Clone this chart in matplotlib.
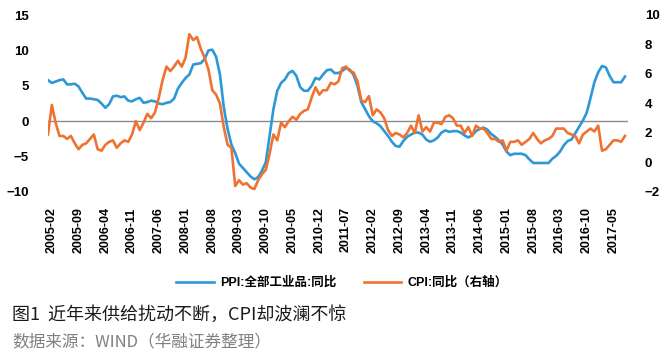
import matplotlib
matplotlib.use("Agg")
import matplotlib.pyplot as plt
import numpy as np
import pandas as pd

plt.rcParams['font.family'] = ['Liberation Sans', 'Noto Sans CJK SC', 'DejaVu Sans']

# monthly data, 2005-01 .. 2017-08
ppi = [5.8, 5.4, 5.6, 5.8, 5.9, 5.2, 5.2, 5.3, 4.9, 4.0, 3.2, 3.2,
       3.1, 3.0, 2.5, 1.9, 2.4, 3.5, 3.6, 3.4, 3.5, 2.9, 2.8, 3.1,
       3.3, 2.6, 2.7, 2.9, 2.8, 2.5, 2.4, 2.6, 2.7, 3.2, 4.6, 5.4,
       6.1, 6.6, 8.0, 8.1, 8.2, 8.8, 10.0, 10.1, 9.1, 6.6, 2.0, -1.1,
       -3.3, -4.5, -6.0, -6.6, -7.2, -7.8, -8.2, -7.9, -7.0, -5.8, -2.1, 1.7,
       4.3, 5.4, 5.9, 6.8, 7.1, 6.4, 4.8, 4.3, 4.3, 5.0, 6.1, 5.9,
       6.6, 7.2, 7.3, 6.8, 6.8, 7.1, 7.5, 7.3, 6.5, 5.0, 2.7, 1.7,
       0.7, 0.0, -0.3, -0.7, -1.4, -2.1, -2.9, -3.5, -3.6, -2.8, -2.2, -1.9,
       -1.6, -1.6, -1.9, -2.6, -2.9, -2.7, -2.3, -1.6, -1.3, -1.5, -1.4, -1.4,
       -1.6, -2.0, -2.3, -2.0, -1.4, -1.1, -0.9, -1.2, -1.8, -2.2, -2.7, -3.3,
       -4.3, -4.8, -4.6, -4.6, -4.6, -4.8, -5.4, -5.9, -5.9, -5.9, -5.9, -5.9,
       -5.3, -4.9, -4.3, -3.4, -2.8, -2.6, -1.7, -0.8, 0.1, 1.2, 3.3, 5.5,
       6.9, 7.8, 7.6, 6.4, 5.5, 5.5, 5.5, 6.3]

cpi = [1.9, 3.9, 2.7, 1.8, 1.8, 1.6, 1.8, 1.3, 0.9, 1.2, 1.3, 1.6,
       1.9, 0.9, 0.8, 1.2, 1.4, 1.5, 1.0, 1.3, 1.5, 1.4, 1.9, 2.8,
       2.2, 2.7, 3.3, 3.0, 3.4, 4.4, 5.6, 6.5, 6.2, 6.5, 6.9, 6.5,
       7.1, 8.7, 8.3, 8.5, 7.7, 7.1, 6.3, 4.9, 4.6, 4.0, 2.4, 1.2,
       1.0, -1.6, -1.2, -1.5, -1.4, -1.7, -1.8, -1.2, -0.8, -0.5, 0.6, 1.9,
       1.5, 2.7, 2.4, 2.8, 3.1, 2.9, 3.3, 3.5, 3.6, 4.4, 5.1, 4.6,
       4.9, 4.9, 5.4, 5.3, 5.5, 6.4, 6.5, 6.2, 6.1, 5.5, 4.2, 4.1,
       4.5, 3.2, 3.6, 3.4, 3.0, 2.2, 1.8, 2.0, 1.9, 1.7, 2.0, 2.5,
       2.0, 3.2, 2.1, 2.4, 2.1, 2.7, 2.7, 2.6, 3.1, 3.2, 3.0, 2.5,
       2.5, 2.0, 2.4, 1.8, 2.5, 2.3, 2.3, 2.0, 1.6, 1.6, 1.4, 1.5,
       0.8, 1.4, 1.4, 1.5, 1.2, 1.4, 1.6, 2.0, 1.6, 1.3, 1.5, 1.6,
       1.8, 2.3, 2.3, 2.3, 2.0, 1.9, 1.8, 1.3, 1.9, 2.1, 2.3, 2.1,
       2.5, 0.8, 0.9, 1.2, 1.5, 1.5, 1.4, 1.8]

months = pd.date_range("2005-01", periods=len(ppi), freq="MS").strftime("%Y-%m").tolist()
x = np.arange(len(ppi))

blue = '#2C98D6'
orange = '#F07232'

fig = plt.figure(figsize=(6.66, 3.64), dpi=100)
ax = fig.add_axes([48/666, 1-192/364, 580/666, 177/364])
ax2 = ax.twinx()

ax.axhline(0, color='#8a8a8a', lw=1.0, zorder=1)
l1, = ax.plot(x, ppi, color=blue, lw=1.9, zorder=3)
l2, = ax2.plot(x, cpi, color=orange, lw=1.9, zorder=2)

ax.set_xlim(0, 151.8)
ax.set_ylim(-10, 15)
ax2.set_ylim(-2, 10)
ax.set_yticks(range(-10, 16, 5))
ax2.set_yticks(range(-2, 11, 2))

ticks = x[1::7]
ax.set_xticks(ticks)
ax.set_xticklabels([months[i] for i in ticks], rotation=90, fontsize=9,
                   fontweight='bold', va='top', ha='center')

for a in (ax, ax2):
    for s in a.spines.values():
        s.set_visible(False)
    a.tick_params(length=0)
ax.tick_params(axis='y', pad=14, labelsize=9.5)
ax2.tick_params(axis='y', pad=12, labelsize=9.5)
ax.tick_params(axis='x', pad=11)
for lab in ax.get_yticklabels() + ax2.get_yticklabels():
    lab.set_fontweight('bold')

fig.legend([l1, l2], ['PPI:全部工业品:同比', 'CPI:同比（右轴）'],
           loc='center', bbox_to_anchor=(342/666, 1-283/364), ncol=2,
           frameon=False, handlelength=3.0, columnspacing=2.2, handletextpad=0.5,
           prop={'family': ['Liberation Sans', 'Noto Sans CJK SC'],
                 'weight': 'bold', 'size': 9})

fig.text(12/666, 1-315/364, '图1  近年来供给扰动不断，CPI却波澜不惊',
         family=['Noto Sans CJK SC'], fontsize=13, color='#1a1a1a', va='center')
fig.text(12/666, 1-342/364, '数据来源：WIND（华融证券整理）',
         family=['Noto Sans CJK SC'], fontsize=12, color='#808080', va='center',
         fontweight='light')

fig.savefig('out.png', dpi=100)
